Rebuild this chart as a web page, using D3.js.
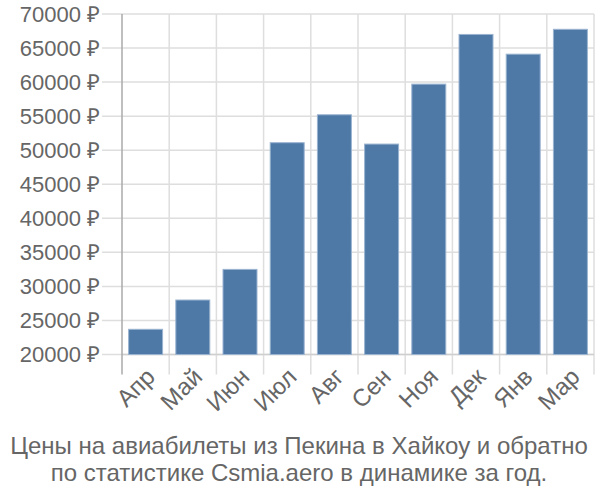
<!DOCTYPE html>
<html><head><meta charset="utf-8">
<script src="https://cdn.jsdelivr.net/npm/d3@7"></script>
<style>body{margin:0;background:#fff}svg{display:block}text{font-family:"Liberation Sans",Arial,sans-serif}</style>
</head><body>
<svg id="c" width="600" height="500"></svg>
<script>
const categories = ["Апр","Май","Июн","Июл","Авг","Сен","Ноя","Дек","Янв","Мар"];
const values = [23700, 28000, 32500, 51100, 55200, 50900, 59700, 67000, 64100, 67750];
const yTicks = [20000,25000,30000,35000,40000,45000,50000,55000,60000,65000,70000];
const titleLines = ["Цены на авиабилеты из Пекина в Хайкоу и обратно","по статистике Csmia.aero в динамике за год."];

(function(){
const svg = d3.select("#c");
const mLeft = 122, mRight = 594, mTop = 14, mBottom = 354.5;
const x = d3.scaleBand().domain(categories).range([mLeft, mRight]).padding(0);
const y = d3.scaleLinear().domain([20000, 70000]).range([mBottom, mTop]);

svg.append("g").selectAll("line").data(yTicks).join("line")
  .attr("x1", mLeft - 20).attr("x2", mRight)
  .attr("y1", d => y(d)).attr("y2", d => y(d))
  .attr("stroke", "#dedede").attr("stroke-width", 1.5);
const edges = categories.map(c => x(c)).concat([mRight]);
svg.append("g").selectAll("line").data(edges.slice(1)).join("line")
  .attr("x1", d => d).attr("x2", d => d)
  .attr("y1", mTop).attr("y2", mBottom + 20)
  .attr("stroke", "#dedede").attr("stroke-width", 1.5);
svg.append("line").attr("x1", mLeft).attr("x2", mRight).attr("y1", mBottom).attr("y2", mBottom)
  .attr("stroke", "#cfcfcf").attr("stroke-width", 1.5);
svg.append("line").attr("x1", mLeft).attr("x2", mLeft).attr("y1", mTop).attr("y2", mBottom + 20)
  .attr("stroke", "#aaaaaa").attr("stroke-width", 1.5);

const bw = x.bandwidth() * 0.72;
svg.append("g").selectAll("rect").data(values).join("rect")
  .attr("x", (d, i) => x(categories[i]) + (x.bandwidth() - bw) / 2)
  .attr("width", bw)
  .attr("y", d => y(d))
  .attr("height", d => mBottom - y(d))
  .attr("fill", "#4e79a7").attr("stroke", "#9ab3d0").attr("stroke-width", 1);

svg.append("g").selectAll("text").data(yTicks).join("text")
  .attr("x", mLeft - 22).attr("y", d => y(d)).attr("dy", "0.35em")
  .attr("text-anchor", "end").attr("fill", "#666").attr("font-size", 22)
  .text(d => d + " ₽");

svg.append("g").selectAll("text").data(categories).join("text")
  .attr("transform", d => `translate(${x(d) + x.bandwidth()/2 - 1},${mBottom + 12}) rotate(-45)`)
  .attr("text-anchor", "end").attr("dy", "0.7em").attr("fill", "#666").attr("font-size", 24)
  .text(d => d);

svg.append("g").selectAll("text").data(titleLines).join("text")
  .attr("x", 299).attr("y", (d, i) => 454 + i * 27)
  .attr("text-anchor", "middle").attr("fill", "#666").attr("font-size", 24)
  .text(d => d);
})();
</script>
</body></html>
